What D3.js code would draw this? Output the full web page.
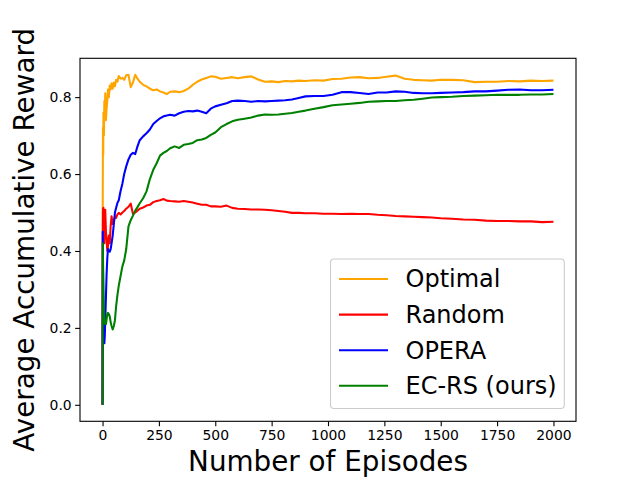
<!DOCTYPE html>
<html>
<head>
<meta charset="utf-8">
<script src="https://cdn.jsdelivr.net/npm/d3@7"></script>
<style>
  html, body { margin: 0; padding: 0; background: #fff; }
  svg { display: block; font-family: "DejaVu Sans", sans-serif; }
</style>
</head>
<body>
<svg id="chart" width="640" height="480"></svg>
<script>
// ---- data ----
const episodes = [0,1,2,3,4,6,8,10,12,15,18,21,24,28,32,36,40,45,50,55,60,66,72,80,88,96,105,115,125,135,145,155,165,180,195,210,225,240,255,270,285,300,320,340,360,380,400,420,440,460,480,500,525,550,575,600,630,660,690,720,750,780,810,840,870,900,940,980,1020,1060,1100,1140,1180,1220,1260,1300,1340,1380,1420,1460,1500,1550,1600,1650,1700,1750,1800,1850,1900,1950,2000];

const optimal = [0,0.56,0.72,0.65,0.76,0.70,0.79,0.75,0.81,0.74,0.77,0.79,0.82,0.80,0.83,0.82,0.836,0.822,0.838,0.828,0.845,0.84,0.855,0.848,0.85,0.845,0.857,0.858,0.826,0.838,0.858,0.848,0.84,0.832,0.828,0.822,0.818,0.82,0.815,0.812,0.808,0.814,0.815,0.813,0.816,0.822,0.832,0.84,0.846,0.85,0.854,0.853,0.848,0.85,0.852,0.849,0.852,0.854,0.846,0.84,0.841,0.839,0.842,0.841,0.843,0.842,0.844,0.843,0.847,0.848,0.851,0.852,0.849,0.85,0.853,0.856,0.848,0.845,0.844,0.843,0.845,0.845,0.844,0.839,0.84,0.84,0.842,0.841,0.843,0.842,0.843];

const random = [0,0.42,0.51,0.5,0.512,0.47,0.42,0.5,0.507,0.45,0.43,0.40,0.412,0.44,0.42,0.465,0.49,0.47,0.477,0.49,0.486,0.495,0.499,0.495,0.5,0.504,0.51,0.515,0.523,0.496,0.5,0.505,0.51,0.513,0.518,0.52,0.527,0.53,0.532,0.535,0.531,0.53,0.529,0.528,0.53,0.528,0.526,0.523,0.52,0.52,0.516,0.516,0.515,0.518,0.512,0.51,0.509,0.508,0.508,0.507,0.506,0.504,0.502,0.499,0.499,0.498,0.498,0.497,0.497,0.496,0.497,0.496,0.496,0.494,0.493,0.491,0.49,0.489,0.488,0.487,0.485,0.484,0.482,0.481,0.479,0.478,0.478,0.477,0.477,0.475,0.476];

const opera = [0,0.45,0.35,0.26,0.2,0.17,0.16,0.18,0.22,0.28,0.34,0.38,0.405,0.4,0.398,0.405,0.42,0.44,0.47,0.5,0.512,0.525,0.532,0.556,0.575,0.6,0.62,0.638,0.65,0.655,0.652,0.672,0.688,0.698,0.706,0.716,0.73,0.738,0.745,0.75,0.752,0.754,0.752,0.758,0.762,0.764,0.763,0.765,0.762,0.758,0.77,0.776,0.78,0.784,0.79,0.791,0.79,0.788,0.79,0.789,0.79,0.791,0.792,0.794,0.798,0.802,0.803,0.803,0.806,0.813,0.813,0.811,0.808,0.812,0.812,0.815,0.814,0.811,0.81,0.81,0.811,0.812,0.813,0.815,0.815,0.817,0.819,0.82,0.818,0.818,0.819];

const ecrs = [0,0.42,0.38,0.34,0.3,0.25,0.215,0.212,0.21,0.21,0.222,0.235,0.239,0.236,0.23,0.215,0.205,0.196,0.205,0.22,0.255,0.285,0.31,0.335,0.36,0.375,0.405,0.464,0.48,0.492,0.505,0.514,0.524,0.537,0.555,0.587,0.611,0.628,0.648,0.655,0.66,0.667,0.672,0.668,0.676,0.678,0.681,0.688,0.69,0.694,0.702,0.708,0.722,0.73,0.737,0.741,0.744,0.747,0.752,0.755,0.754,0.755,0.757,0.759,0.762,0.765,0.77,0.774,0.779,0.781,0.783,0.785,0.788,0.789,0.79,0.79,0.792,0.793,0.796,0.799,0.8,0.801,0.803,0.804,0.805,0.806,0.806,0.806,0.807,0.807,0.808];

const seriesNames = ["Optimal", "Random", "OPERA", "EC-RS (ours)"];
const seriesColors = ["#FFA500", "#FF0000", "#0000FF", "#008000"];
const seriesValues = [optimal, random, opera, ecrs];

const xTicks = [0,250,500,750,1000,1250,1500,1750,2000];
const yTicks = [0.0,0.2,0.4,0.6,0.8];
const xLabel = "Number of Episodes";
const yLabel = "Average Accumulative Reward";

// ---- layout ----
const svg = d3.select("#chart");
const L = 80, R = 576, T = 58.3, B = 421.3;

const x = d3.scaleLinear().domain([-100, 2100]).range([L, R]);
const y = d3.scaleLinear().domain([-0.0429, 0.901]).range([B, T]);

svg.append("defs").append("clipPath").attr("id","clip")
  .append("rect").attr("x",L).attr("y",T).attr("width",R-L).attr("height",B-T);

// lines
const line = d3.line().x((d,i)=>x(episodes[i])).y(d=>y(d));
const g = svg.append("g").attr("clip-path","url(#clip)");
seriesValues.forEach((vals, k) => {
  g.append("path").datum(vals)
    .attr("d", line)
    .attr("fill","none")
    .attr("stroke", seriesColors[k])
    .attr("stroke-width", 2.08)
    .attr("stroke-linejoin","round");
});

// axes
const xAxis = d3.axisBottom(x).tickValues(xTicks).tickFormat(d3.format("d"))
  .tickSize(4.86).tickPadding(3.5);
const yAxis = d3.axisLeft(y).tickValues(yTicks).tickFormat(d3.format(".1f"))
  .tickSize(4.86).tickPadding(3.5);

const gx = svg.append("g").attr("transform",`translate(0,${B})`).call(xAxis);
const gy = svg.append("g").attr("transform",`translate(${L},0)`).call(yAxis);
[gx, gy].forEach(a => {
  a.select(".domain").remove();
  a.selectAll(".tick line").attr("stroke","#000").attr("stroke-width",1.1);
  a.selectAll(".tick text").attr("font-family","DejaVu Sans").attr("font-size","13.9px").attr("fill","#000");
});

// spines
svg.append("rect").attr("x",L).attr("y",T).attr("width",R-L).attr("height",B-T)
  .attr("fill","none").attr("stroke","#000").attr("stroke-width",1.1);

// axis labels
svg.append("text").attr("x",(L+R)/2).attr("y",471)
  .attr("text-anchor","middle").attr("font-size","27.8px").attr("fill","#000")
  .text(xLabel);
svg.append("text").attr("transform",`translate(34,${(T+B)/2}) rotate(-90)`)
  .attr("text-anchor","middle").attr("font-size","27.8px").attr("fill","#000")
  .text(yLabel);

// legend
const lg = svg.append("g");
lg.append("rect").attr("x",330.5).attr("y",259).attr("width",233.8).attr("height",149.5)
  .attr("rx",3.5).attr("ry",3.5)
  .attr("fill","#fff").attr("fill-opacity",0.8)
  .attr("stroke","#cccccc").attr("stroke-width",1.1);
seriesNames.forEach((name, k) => {
  const cy = 279 + k*35.6;
  lg.append("line").attr("x1",339).attr("x2",388).attr("y1",cy).attr("y2",cy)
    .attr("stroke",seriesColors[k]).attr("stroke-width",2.08);
  lg.append("text").attr("x",405.5).attr("y",cy+8.4)
    .attr("font-size","24px").attr("fill","#000").text(name);
});
</script>
</body>
</html>
